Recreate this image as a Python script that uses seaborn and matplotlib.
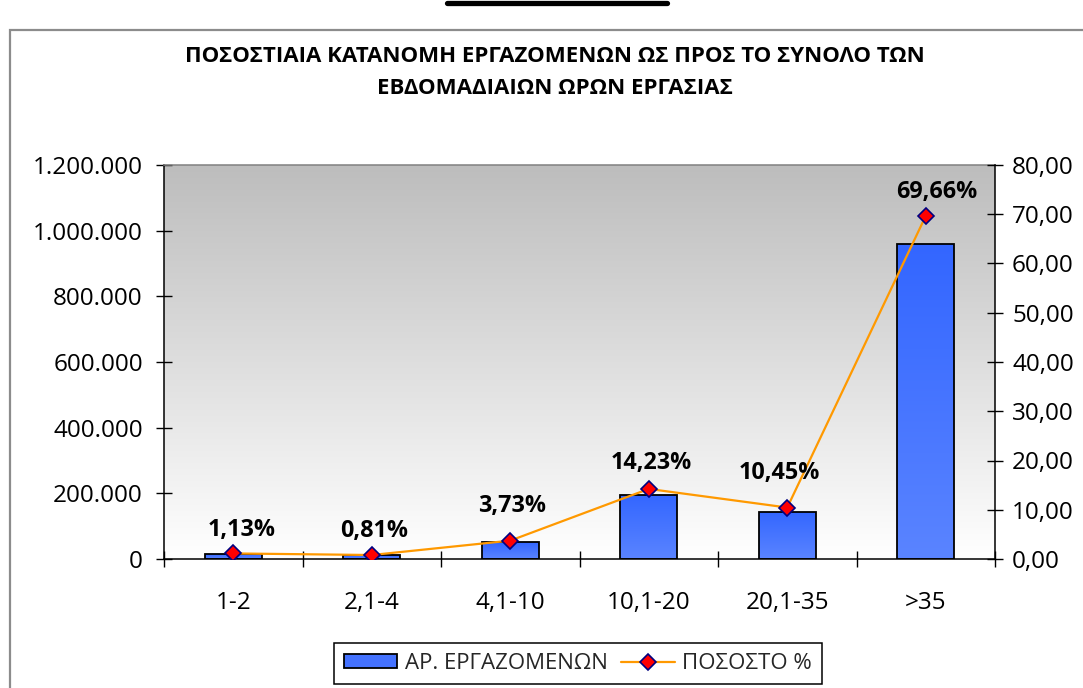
import numpy as np
import matplotlib
matplotlib.use("Agg")
import matplotlib.pyplot as plt
import seaborn as sns
from matplotlib.patches import Rectangle, Patch
from matplotlib.lines import Line2D
from matplotlib.colors import LinearSegmentedColormap

# ---- data ----
categories = ["1-2", "2,1-4", "4,1-10", "10,1-20", "20,1-35", ">35"]
workers = [15600, 11200, 51400, 196100, 144000, 960000]
percent = [1.13, 0.81, 3.73, 14.23, 10.45, 69.66]
left_ticks = [0, 200000, 400000, 600000, 800000, 1000000, 1200000]
right_ticks = [0, 10, 20, 30, 40, 50, 60, 70, 80]
title_lines = ["ΠΟΣΟΣΤΙΑΙΑ ΚΑΤΑΝΟΜΗ ΕΡΓΑΖΟΜΕΝΩΝ ΩΣ ΠΡΟΣ ΤΟ ΣΥΝΟΛΟ ΤΩΝ",
               "ΕΒΔΟΜΑΔΙΑΙΩΝ ΩΡΩΝ ΕΡΓΑΣΙΑΣ"]
bar_label = "ΑΡ. ΕΡΓΑΖΟΜΕΝΩΝ"
line_label = "ΠΟΣΟΣΤΟ %"
# label offsets (points) for data labels
lab_dx = [6, 2, 1, 2, -6, 8]
lab_dy = [17, 17, 25, 19, 25, 17]

sns.set_theme(style="white")
plt.rcParams['font.family'] = ['Open Sans', 'DejaVu Sans']

W, H = 1083, 688
fig = plt.figure(figsize=(W / 100, H / 100), dpi=100)
L, R, T, B = 164, 995, 165, 559
ax = fig.add_axes([L / W, 1 - B / H, (R - L) / W, (B - T) / H])
ax.patch.set_visible(False)

# gradient background
grad = np.linspace(0, 1, 256).reshape(-1, 1)
bg_cmap = LinearSegmentedColormap.from_list("bg", ["#ffffff", "#bdbdbd"])
ax.imshow(grad, extent=[0, 1, 0, 1], transform=ax.transAxes, aspect='auto',
          cmap=bg_cmap, origin='lower', zorder=0)

sns.barplot(x=categories, y=workers, ax=ax, width=0.41, color="#4472ff",
            edgecolor="black", linewidth=1.3, saturation=1, zorder=3)

bar_cmap = LinearSegmentedColormap.from_list("bar", ["#5a84ff", "#3366ff"])
for p in ax.patches:
    x0, y0 = p.get_x(), p.get_y()
    w, h = p.get_width(), p.get_height()
    im = ax.imshow(grad, extent=[x0, x0 + w, y0, y0 + h], aspect='auto',
                   cmap=bar_cmap, origin='lower', zorder=2.5)
    im.set_clip_path(p)
    p.set_facecolor("none")

ax.set_xlim(-0.5, len(categories) - 0.5)
ax.set_ylim(0, 1200000)
ax.set_yticks(left_ticks)
ax.set_yticklabels([f"{v:,}".replace(",", ".") for v in left_ticks])
ax.set_xticks(range(len(categories)))
ax.set_xticklabels(categories)
ax.set_xticks(np.arange(-0.5, len(categories), 1), minor=True)
ax.tick_params(axis='x', which='major', length=0, pad=23, labelsize=17.5, colors='black')
ax.tick_params(axis='x', which='minor', direction='inout', length=11.5, width=1, color='black', bottom=True)
ax.tick_params(axis='y', direction='inout', length=11.5, width=1, pad=9.5, labelsize=17.5,
               colors='black', left=True)
ax.set_xlabel("")
ax.set_ylabel("")
for s in ["left", "bottom"]:
    ax.spines[s].set_color("black")
    ax.spines[s].set_linewidth(1.1)
ax.spines["top"].set_color("#808080")
ax.spines["top"].set_linewidth(1.1)
ax.spines["right"].set_visible(False)

ax2 = ax.twinx()
sns.lineplot(x=np.arange(len(categories)), y=percent, ax=ax2, color="#ff9900",
             linewidth=1.6, marker="D", markersize=8, markerfacecolor="#ff0000",
             markeredgecolor="#000080", markeredgewidth=1.2, zorder=5)
ax2.set_ylim(0, 80)
ax2.set_yticks(right_ticks)
ax2.set_yticklabels([f"{v:.2f}".replace(".", ",") for v in right_ticks])
ax2.tick_params(axis='y', direction='inout', length=11.5, width=1, pad=6.5, labelsize=17.5,
                colors='black', right=True)
ax2.set_ylabel("")
ax2.spines["right"].set_color("black")
ax2.spines["right"].set_linewidth(1.1)
for s in ["left", "top", "bottom"]:
    ax2.spines[s].set_visible(False)
ax2.set_xlim(-0.5, len(categories) - 0.5)

for i, v in enumerate(percent):
    ax2.annotate(f"{v:.2f}".replace(".", ",") + "%", (i, v),
                 xytext=(lab_dx[i], lab_dy[i]), textcoords="offset points",
                 ha="center", va="center", fontsize=16.8, fontweight="bold",
                 color="black", zorder=6)

# title
fig.text(555 / W, 1 - 56 / H, title_lines[0], ha="center", va="center",
         fontsize=16, fontweight="bold", color="black")
fig.text(555 / W, 1 - 89 / H, title_lines[1], ha="center", va="center",
         fontsize=16, fontweight="bold", color="black")

# outer chart frame
fig.add_artist(Rectangle((10 / W, -0.2), 1.2, 1 - 30 / H + 0.2, transform=fig.transFigure,
                         fill=False, edgecolor="#8c8c8c", linewidth=1.6))
fig.add_artist(Line2D([447 / W, 667 / W], [1 - 2.5 / H] * 2, transform=fig.transFigure,
                      color="black", linewidth=3.8))

# legend
h1 = Patch(facecolor="#4472ff", edgecolor="black", linewidth=1.3)
h2 = Line2D([], [], color="#ff9900", linewidth=1.6, marker="D", markersize=8,
            markerfacecolor="#ff0000", markeredgecolor="#000080", markeredgewidth=1.2)
leg = fig.legend([h1, h2], [bar_label, line_label], loc="upper left",
                 bbox_to_anchor=(334 / W, 1 - 643 / H), ncol=2, fontsize=16,
                 frameon=True, fancybox=False, edgecolor="black", framealpha=1,
                 handlelength=2.4, handleheight=0.55, handletextpad=0.35,
                 columnspacing=0.6, borderpad=0.45, borderaxespad=0)
leg.get_frame().set_linewidth(1.1)

fig.savefig("out.png", dpi=100, facecolor="white")
